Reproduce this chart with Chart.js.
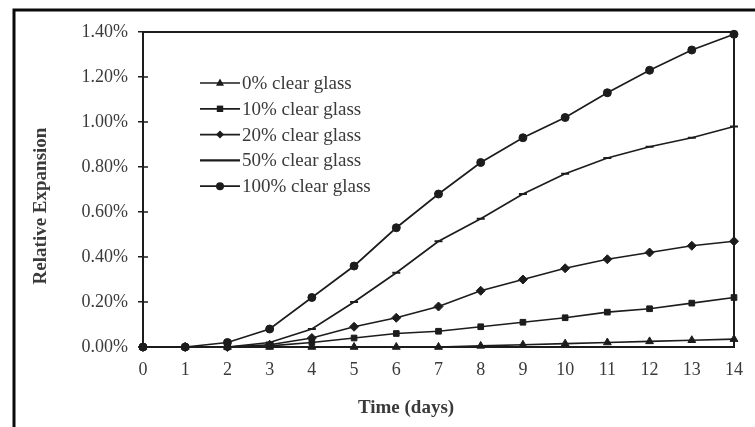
<!DOCTYPE html>
<html>
<head>
<meta charset="utf-8">
<script src="https://cdn.jsdelivr.net/npm/chart.js@4.4.1/dist/chart.umd.min.js"></script>
<style>
  html, body { margin: 0; padding: 0; background: #fff; }
  #wrap { width: 755px; height: 427px; }
</style>
</head>
<body>
<div id="wrap"><canvas id="grafico" width="755" height="427"></canvas></div>
<script>
// dados (expansao relativa, em %)
var days = [0, 1, 2, 3, 4, 5, 6, 7, 8, 9, 10, 11, 12, 13, 14];
var yTicks = [0, 0.2, 0.4, 0.6, 0.8, 1.0, 1.2, 1.4];
var glass0 = [0, 0, 0, 0, 0, 0, 0, 0, 0.005, 0.01, 0.015, 0.02, 0.025, 0.03, 0.035];
var glass10 = [0, 0, 0, 0.005, 0.02, 0.04, 0.06, 0.07, 0.09, 0.11, 0.13, 0.155, 0.17, 0.195, 0.22];
var glass20 = [0, 0, 0, 0.01, 0.04, 0.09, 0.13, 0.18, 0.25, 0.30, 0.35, 0.39, 0.42, 0.45, 0.47];
var glass50 = [0, 0, 0, 0.02, 0.08, 0.20, 0.33, 0.47, 0.57, 0.68, 0.77, 0.84, 0.89, 0.93, 0.98];
var glass100 = [0, 0, 0.02, 0.08, 0.22, 0.36, 0.53, 0.68, 0.82, 0.93, 1.02, 1.13, 1.23, 1.32, 1.39];
var seriesNames = ['0% clear glass', '10% clear glass', '20% clear glass', '50% clear glass', '100% clear glass'];

var serif = '"Liberation Serif", "DejaVu Serif", serif';
var ink = '#1c1c1c';
var textInk = '#3a3a3a';

function serie(nome, valores, estilo, raio) {
    return {
        label: nome,
        data: valores,
        borderColor: ink,
        backgroundColor: ink,
        borderWidth: 1.7,
        pointStyle: estilo,
        pointRadius: raio,
        pointBorderWidth: estilo === 'line' ? 2 : 1,
        pointBorderColor: ink,
        pointBackgroundColor: ink,
        tension: 0,
        clip: false
    };
}

function marca(ctx, estilo, x, y, r) {
    ctx.beginPath();
    if (estilo === 'triangle') {
        ctx.moveTo(x, y - r * 1.1);
        ctx.lineTo(x + r, y + r * 0.7);
        ctx.lineTo(x - r, y + r * 0.7);
        ctx.closePath();
        ctx.fill();
    } else if (estilo === 'rect') {
        ctx.fillRect(x - r * 0.8, y - r * 0.8, r * 1.6, r * 1.6);
    } else if (estilo === 'rectRot') {
        ctx.moveTo(x, y - r);
        ctx.lineTo(x + r, y);
        ctx.lineTo(x, y + r);
        ctx.lineTo(x - r, y);
        ctx.closePath();
        ctx.fill();
    } else if (estilo === 'circle') {
        ctx.arc(x, y, r, 0, Math.PI * 2);
        ctx.fill();
    }
}

var moldura = {
    id: 'moldura',
    afterDraw: function (chart) {
        var ctx = chart.ctx;
        var a = chart.chartArea;
        var yS = chart.scales.y;
        ctx.save();
        // caixa do grafico
        ctx.strokeStyle = ink;
        ctx.lineWidth = 2;
        ctx.strokeRect(a.left, a.top, a.right - a.left, a.bottom - a.top);
        // pedaco interno dos ticks do eixo y
        ctx.lineWidth = 1.5;
        yS.ticks.forEach(function (t, i) {
            var py = yS.getPixelForTick(i);
            ctx.beginPath();
            ctx.moveTo(a.left, py);
            ctx.lineTo(a.left + 5, py);
            ctx.stroke();
        });
        // moldura externa
        ctx.lineWidth = 3;
        ctx.strokeStyle = '#0a0a0a';
        ctx.beginPath();
        ctx.moveTo(14, 427);
        ctx.lineTo(14, 10);
        ctx.lineTo(755, 10);
        ctx.stroke();
        // titulos dos eixos
        ctx.fillStyle = textInk;
        ctx.font = 'bold 19px ' + serif;
        ctx.textAlign = 'center';
        ctx.textBaseline = 'middle';
        ctx.fillText('Time (days)', 406, 408);
        ctx.save();
        ctx.translate(41, 206);
        ctx.rotate(-Math.PI / 2);
        ctx.fillText('Relative Expansion', 0, 0);
        ctx.restore();
        // legenda
        ctx.font = '19px ' + serif;
        ctx.textAlign = 'left';
        chart.data.datasets.forEach(function (ds, i) {
            var ly = 83 + i * 25.8;
            ctx.strokeStyle = ink;
            ctx.fillStyle = ink;
            ctx.lineWidth = ds.pointStyle === 'line' ? 2.2 : 1.7;
            ctx.beginPath();
            ctx.moveTo(200, ly);
            ctx.lineTo(240, ly);
            ctx.stroke();
            marca(ctx, ds.pointStyle, 220, ly, 4);
            ctx.fillStyle = textInk;
            ctx.fillText(ds.label, 242, ly + 1);
        });
        ctx.restore();
    }
};

var ctx = document.getElementById('grafico').getContext('2d');
var grafico = new Chart(ctx, {
    type: 'line',
    data: {
        labels: days,
        datasets: [
            serie(seriesNames[0], glass0, 'triangle', 4.5),
            serie(seriesNames[1], glass10, 'rect', 4),
            serie(seriesNames[2], glass20, 'rectRot', 4.5),
            serie(seriesNames[3], glass50, 'line', 4),
            serie(seriesNames[4], glass100, 'circle', 4)
        ]
    },
    options: {
        responsive: false,
        animation: false,
        layout: { padding: { left: 0, top: 32, right: 18, bottom: 0 } },
        plugins: {
            legend: { display: false },
            tooltip: { enabled: false }
        },
        scales: {
            x: {
                type: 'category',
                offset: false,
                grid: { display: false, drawTicks: false },
                border: { display: false },
                ticks: {
                    padding: 12,
                    color: textInk,
                    font: { family: serif, size: 18 },
                    maxRotation: 0,
                    autoSkip: false
                },
                afterFit: function (s) { s.height = 80; }
            },
            y: {
                min: 0,
                max: 1.4,
                afterBuildTicks: function (s) {
                    s.ticks = yTicks.map(function (v) { return { value: v }; });
                },
                grid: {
                    drawOnChartArea: false,
                    drawTicks: true,
                    tickLength: 5,
                    color: ink,
                    lineWidth: 1.5
                },
                border: { display: false },
                ticks: {
                    padding: 10,
                    color: textInk,
                    font: { family: serif, size: 18 },
                    callback: function (v) { return Number(v).toFixed(2) + '%'; }
                },
                afterFit: function (s) { s.width = 143; }
            }
        }
    },
    plugins: [moldura]
});
</script>
</body>
</html>
